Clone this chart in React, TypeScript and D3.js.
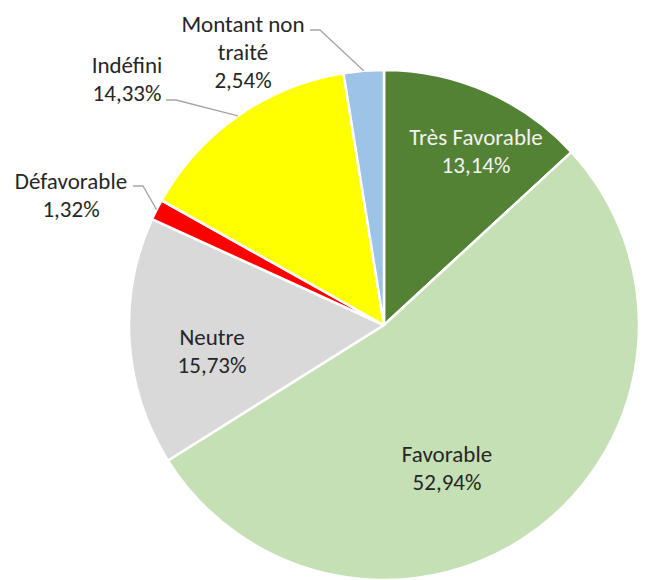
import React from 'react';
import * as d3 from 'd3';

const categories = ['Très Favorable', 'Favorable', 'Neutre', 'Défavorable', 'Indéfini', 'Montant non traité'];
const values = [13.14, 52.94, 15.73, 1.32, 14.33, 2.54];
const labelLines = [['Très Favorable'], ['Favorable'], ['Neutre'], ['Défavorable'], ['Indéfini'], ['Montant non', 'traité']];
const valueLabels = ['13,14%', '52,94%', '15,73%', '1,32%', '14,33%', '2,54%'];
const colors = ['#548235', '#C5E0B4', '#D9D9D9', '#FF0000', '#FFFF00', '#9DC3E6'];

const W = 647;
const H = 580;
const cx = 384;
const cy = 325;
const R = 255;
const LH = 28;
const FONT = 'Carlito, Lato, sans-serif';

// label layout (text centre x, first baseline y, leader start x and y)
const labelLayout: { x: number; y: number; fill: string; lx?: number; ly?: number }[] = [
  { x: 476, y: 145, fill: '#F2F2F2' },
  { x: 447, y: 462, fill: '#262626' },
  { x: 212, y: 345, fill: '#262626' },
  { x: 71, y: 189, fill: '#262626', lx: 133, ly: 186 },
  { x: 127, y: 73, fill: '#262626', lx: 166, ly: 100 },
  { x: 243, y: 32, fill: '#262626', lx: 310, ly: 30 },
];

export default function App() {
  const pie = d3.pie<number>().sort(null).value((d) => d);
  const arcs = pie(values);
  const arc = d3.arc<d3.PieArcDatum<number>>().innerRadius(0).outerRadius(R);

  return (
    <svg width={W} height={H} style={{ position: 'absolute', left: 0, top: 0, background: '#fff' }}>
      <g transform={`translate(${cx},${cy})`}>
        {arcs.map((a, i) => (
          <path key={categories[i]} d={arc(a) || ''} fill={colors[i]} stroke="#fff" strokeWidth={2.5} strokeLinejoin="round" />
        ))}
      </g>
      {arcs.map((a, i) => {
        const L = labelLayout[i];
        if (L.lx === undefined || L.ly === undefined) return null;
        const mid = (a.startAngle + a.endAngle) / 2;
        const ex = cx + R * Math.sin(mid);
        const ey = cy - R * Math.cos(mid);
        return (
          <polyline
            key={'l' + i}
            points={`${L.lx},${L.ly} ${L.lx + 10},${L.ly} ${ex},${ey}`}
            fill="none"
            stroke="#A6A6A6"
            strokeWidth={1.3}
          />
        );
      })}
      {categories.map((c, i) => {
        const L = labelLayout[i];
        const lines = [...labelLines[i], valueLabels[i]];
        return (
          <text key={'t' + c} x={L.x} y={L.y} textAnchor="middle" fontFamily={FONT} fontSize={23} fill={L.fill}>
            {lines.map((s, j) => (
              <tspan key={j} x={L.x} y={L.y + j * LH}>
                {s}
              </tspan>
            ))}
          </text>
        );
      })}
    </svg>
  );
}
